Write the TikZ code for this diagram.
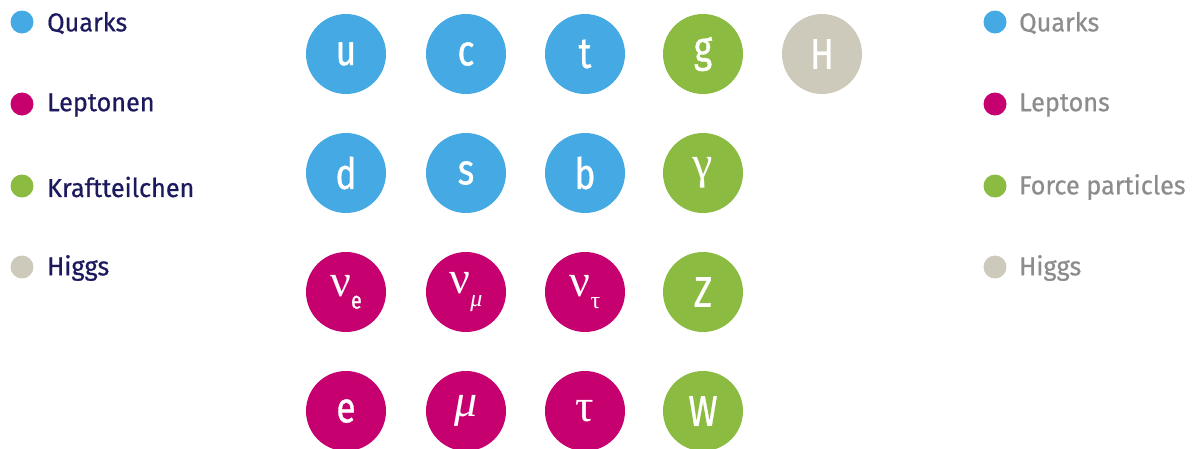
\documentclass[tikz,border=0pt]{standalone}
\usepackage{fontspec}
\setmainfont{Fira Sans}
\newfontfamily\legfont[FakeStretch=0.97, FakeBold=0.6]{Fira Sans}
\newfontfamily\condfont[FakeStretch=0.82, FakeBold=0.8]{Fira Sans}
\newfontfamily\greekfont{Liberation Serif}
\definecolor{quark}{HTML}{45AAE3}
\definecolor{lepton}{HTML}{C6006F}
\definecolor{force}{HTML}{8BBB40}
\definecolor{higgs}{HTML}{CDCABC}
\definecolor{navy}{HTML}{1C1A5C}
\definecolor{greytext}{HTML}{8C8C8C}
\newcommand{\gk}[1]{{\greekfont\fontsize{46}{46}\selectfont #1}}
\newcommand{\subs}[1]{\raisebox{-0.55ex}{\fontsize{24}{24}\selectfont #1}}
\tikzset{
  x=1pt, y=-1pt,
  particle/.style={circle, minimum size=80pt, inner sep=0pt, text=white,
    font=\condfont\fontsize{43}{43}\selectfont},
  dot/.style={circle, minimum size=23pt, inner sep=0pt},
  legL/.style={anchor=west, inner sep=0pt, text=navy, font=\legfont\fontsize{26}{26}\selectfont},
  legR/.style={anchor=west, inner sep=0pt, text=greytext, font=\legfont\fontsize{26}{26}\selectfont},
}
\begin{document}
\begin{tikzpicture}
\useasboundingbox (0,0) rectangle (1193,448);
% left legend
\node[dot, fill=quark] (lq) at (22,22) {};
\node[legL] (tlq) at (47,23) {Quarks};
\node[dot, fill=lepton] (ll) at (22,104) {};
\node[legL] (tll) at (47,105) {Leptonen};
\node[dot, fill=force] (lf) at (22,186) {};
\node[legL] (tlf) at (47,187) {Kraftteilchen};
\node[dot, fill=higgs] (lh) at (22,267) {};
\node[legL] (tlh) at (47,268) {Higgs};
% right legend
\node[dot, fill=quark] (rq) at (995,22) {};
\node[legR] (trq) at (1019,23) {Quarks};
\node[dot, fill=lepton] (rl) at (995,104) {};
\node[legR] (trl) at (1019,105) {Leptons};
\node[dot, fill=force] (rf) at (995,186) {};
\node[legR] (trf) at (1019,187) {Force particles};
\node[dot, fill=higgs] (rh) at (995,267) {};
\node[legR] (trh) at (1019,268) {Higgs};
% particles
\node[particle, fill=quark] (u) at (346,54) {u};
\node[particle, fill=quark] (c) at (466,54) {c};
\node[particle, fill=quark] (t) at (585,54) {t};
\node[particle, fill=force] (g) at (703,54) {g};
\node[particle, fill=higgs] (H) at (822,54) {H};
\node[particle, fill=quark] (d) at (346,173) {d};
\node[particle, fill=quark] (s) at (466,173) {s};
\node[particle, fill=quark] (b) at (585,173) {b};
\node[particle, fill=force] (gamma) at (703,173) {\gk{γ}};
\node[particle, fill=lepton] (ne) at (346,292) {\gk{ν}\subs{e}};
\node[particle, fill=lepton] (nm) at (466,292) {\gk{ν}\subs{\greekfont\itshape μ}};
\node[particle, fill=lepton] (nt) at (585,292) {\gk{ν}\subs{\greekfont τ}};
\node[particle, fill=force] (Z) at (703,292) {Z};
\node[particle, fill=lepton] (e) at (346,411) {e};
\node[particle, fill=lepton] (mu) at (466,411) {\gk{\itshape μ}};
\node[particle, fill=lepton] (tau) at (585,411) {\gk{τ}};
\node[particle, fill=force] (W) at (703,411) {W};
\end{tikzpicture}
\end{document}
